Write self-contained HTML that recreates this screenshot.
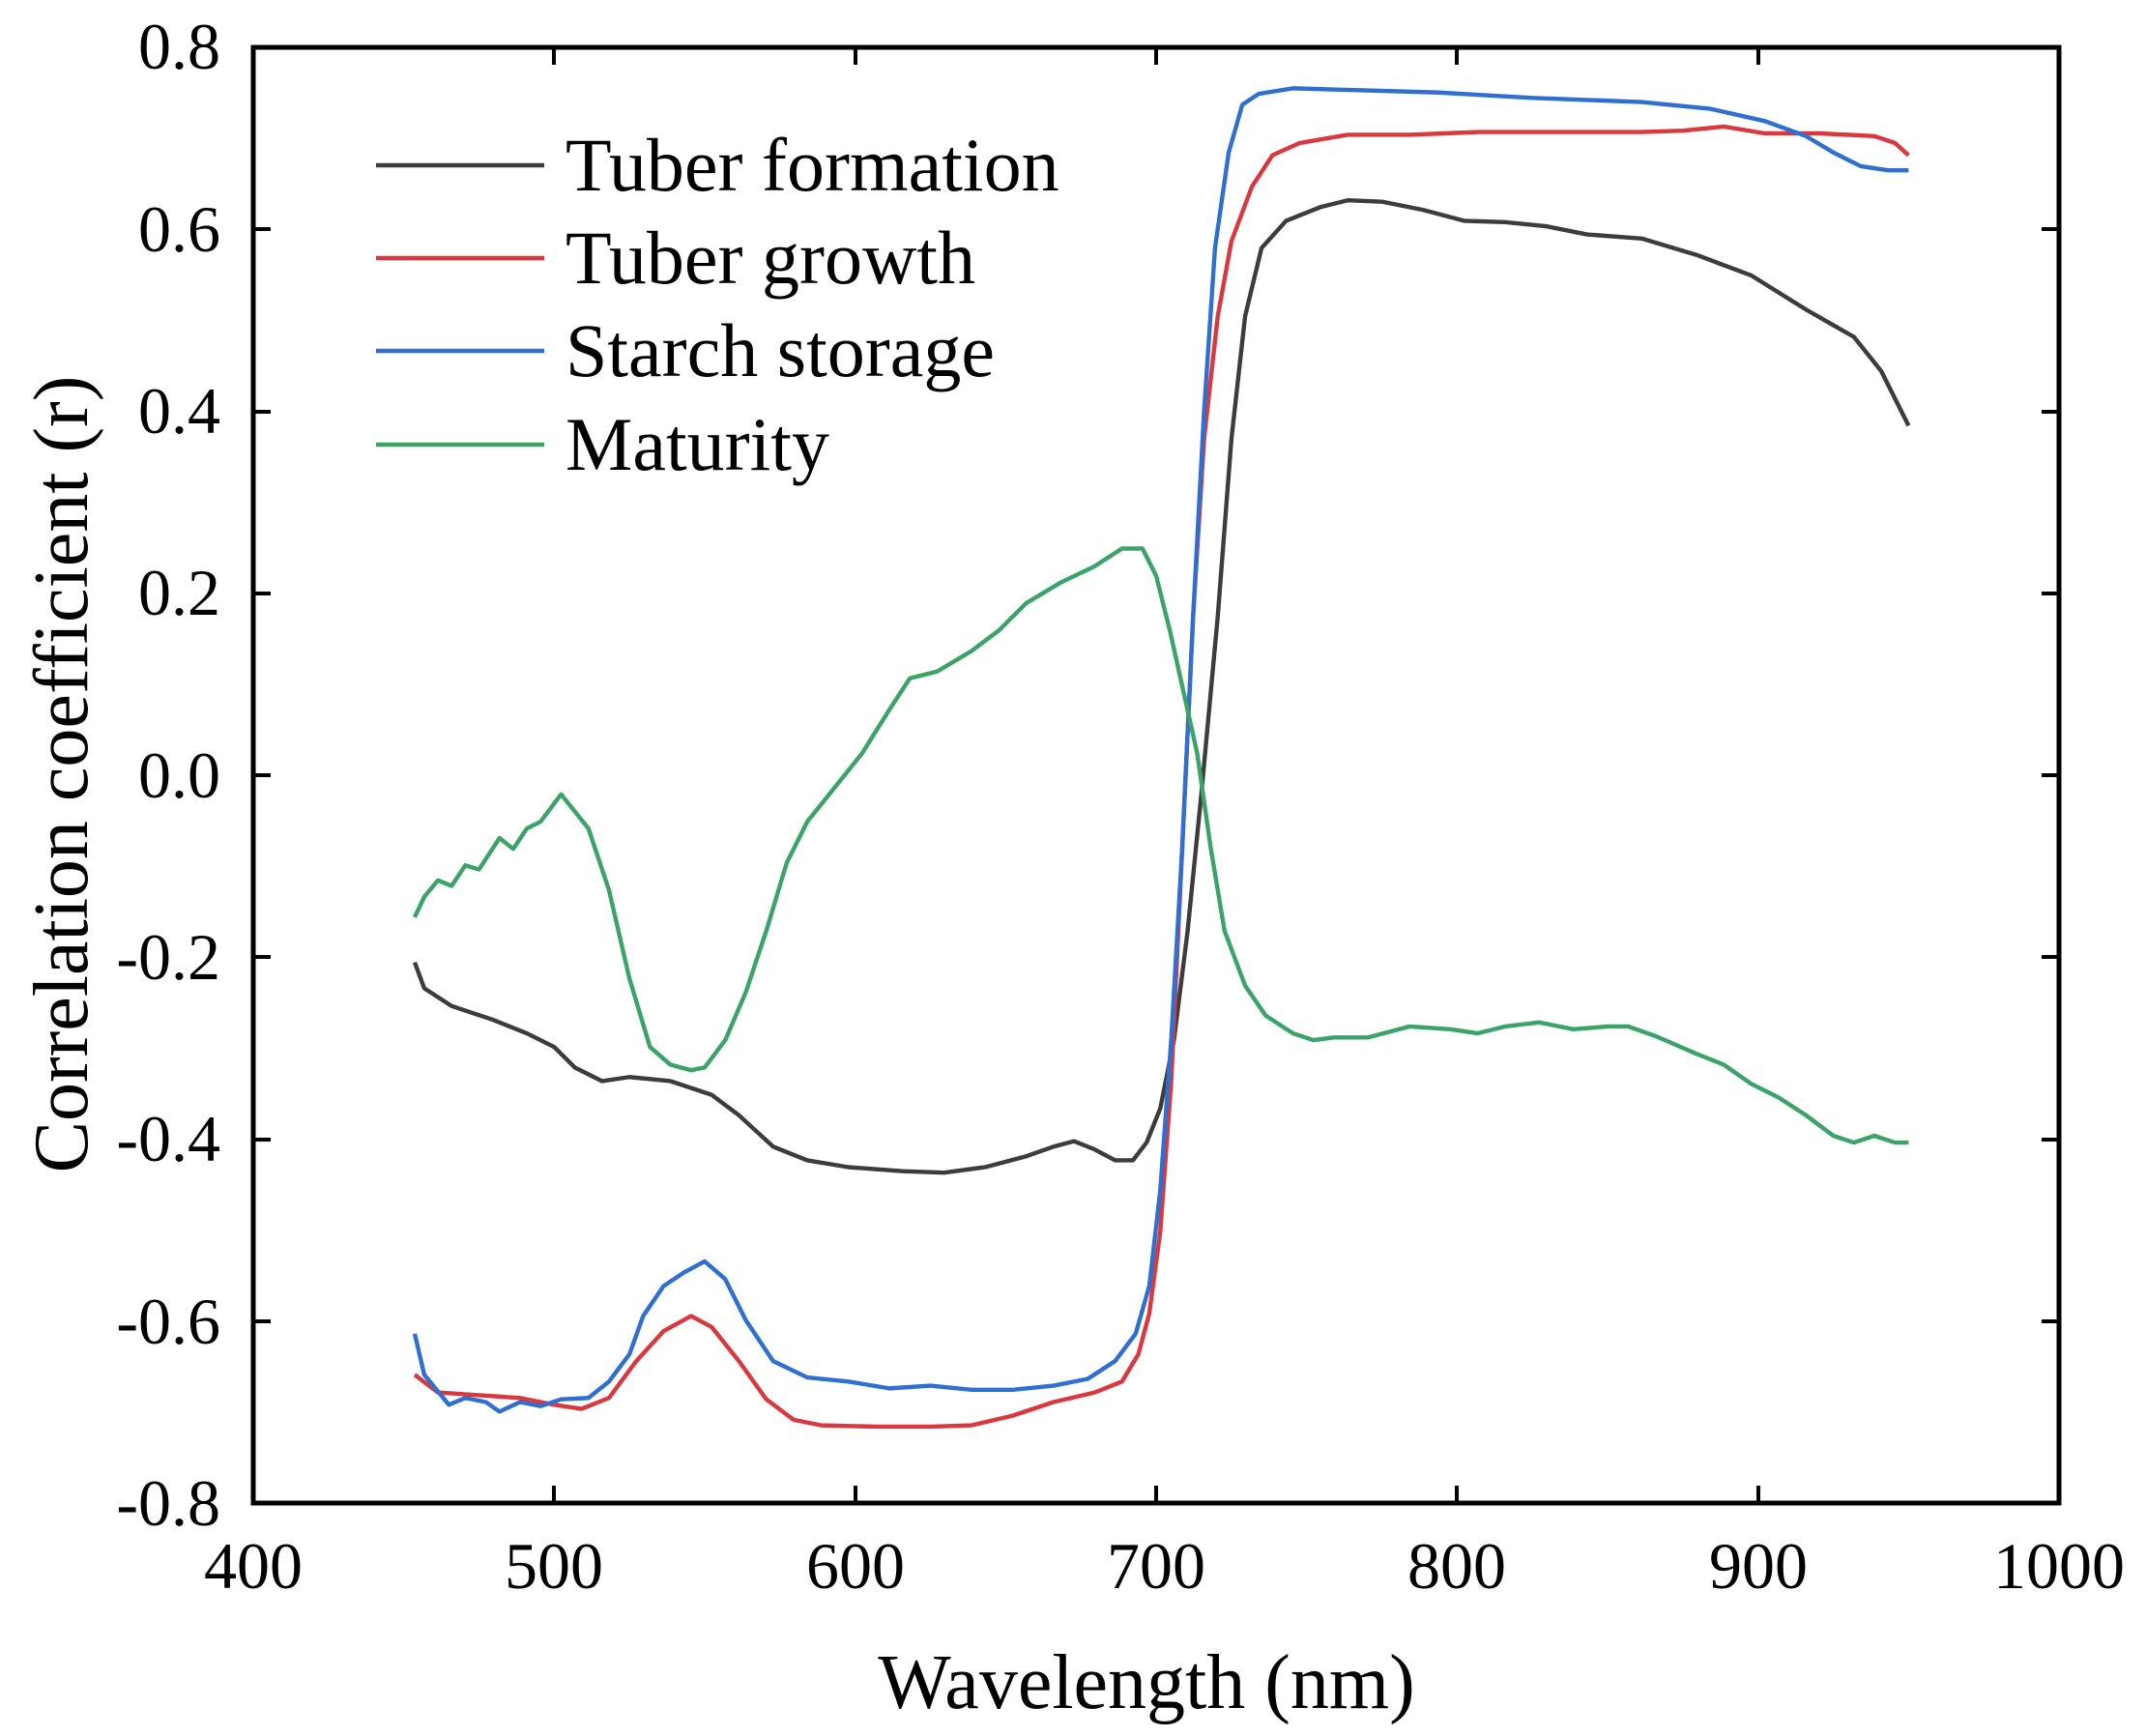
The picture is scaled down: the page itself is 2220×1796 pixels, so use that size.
<!DOCTYPE html>
<html><head><meta charset="utf-8"><style>
html,body{margin:0;padding:0;background:#fff;}
svg{display:block;font-family:"Liberation Serif",serif;}
</style></head><body>
<svg width="2220" height="1796" viewBox="0 0 2220 1796" xmlns="http://www.w3.org/2000/svg">
<rect width="2220" height="1796" fill="#fff"/>
<g fill="none" stroke-width="4.4" stroke-linejoin="round" transform="translate(262,49) scale(1.4152,1.4128) translate(-185,-33)">
<polyline vector-effect="non-scaling-stroke" stroke="#3c3c3c" points="303,703 310,722 330,735 360,745 385,755 405,765 420,780 440,790 460,787 490,790 520,800 540,815 565,838 590,848 620,853 660,856 690,857 720,853 750,845 770,838 785,834 800,840 815,848 828,848 838,835 848,810 858,760 868,680 878,580 890,450 900,320 910,230 922,180 940,160 965,150 985,145 1010,146 1040,152 1070,160 1100,161 1130,164 1160,170 1200,173 1240,185 1280,200 1320,225 1355,245 1375,270 1395,310"/>
<polyline vector-effect="non-scaling-stroke" stroke="#d9393e" points="303,1005 320,1018 350,1020 380,1022 405,1027 425,1030 445,1022 465,995 485,973 505,962 520,970 540,995 560,1023 580,1038 600,1042 640,1043 680,1043 710,1042 740,1035 770,1025 800,1018 820,1010 832,990 840,960 848,900 856,790 864,620 872,450 880,320 890,230 900,175 915,135 930,112 950,103 985,97 1030,97 1080,95 1150,95 1200,95 1230,94 1260,91 1290,96 1330,96 1370,98 1385,103 1395,112"/>
<polyline vector-effect="non-scaling-stroke" stroke="#2e6fd0" points="303,975 310,1005 328,1027 340,1022 355,1025 365,1032 380,1025 395,1028 410,1023 430,1022 445,1010 460,990 470,962 485,940 500,930 515,922 530,935 545,965 565,995 590,1007 620,1010 650,1015 680,1013 710,1016 740,1016 770,1013 795,1008 815,995 830,975 840,940 848,870 856,760 864,620 872,450 880,300 888,180 898,110 908,75 920,67 945,63 980,64 1050,66 1120,70 1200,73 1250,78 1290,87 1320,98 1340,110 1360,120 1380,123 1395,123"/>
<polyline vector-effect="non-scaling-stroke" stroke="#3aa367" points="303,670 310,655 320,643 330,647 340,632 350,635 365,612 375,620 385,605 395,600 410,580 430,605 445,650 460,715 475,765 490,778 505,782 515,780 530,760 545,725 560,680 575,630 590,600 610,575 630,550 650,518 665,495 685,490 710,475 730,460 750,440 775,425 800,413 820,400 835,400 845,420 855,460 865,505 875,550 885,620 895,680 910,720 925,742 945,755 960,760 975,758 1000,758 1030,750 1060,752 1080,755 1100,750 1125,747 1150,752 1175,750 1190,750 1210,757 1240,770 1260,778 1280,792 1300,802 1320,815 1340,830 1355,835 1370,830 1385,835 1395,835"/>
</g>
<rect x="262" y="49" width="1868" height="1506" fill="none" stroke="#000" stroke-width="5"/>
<g stroke="#000" stroke-width="4">
<path d="M262 237h18M262 426h18M262 614h18M262 802h18M262 990h18M262 1179h18M262 1367h18
M2130 237h-18M2130 426h-18M2130 614h-18M2130 802h-18M2130 990h-18M2130 1179h-18M2130 1367h-18
M573 1555v-18M885 1555v-18M1196 1555v-18M1507 1555v-18M1819 1555v-18
M573 49v18M885 49v18M1196 49v18M1507 49v18M1819 49v18"/>
</g>
<g font-size="68" fill="#000" text-anchor="end">
<text x="228" y="71">0.8</text>
<text x="228" y="260">0.6</text>
<text x="228" y="448">0.4</text>
<text x="228" y="636">0.2</text>
<text x="228" y="825">0.0</text>
<text x="228" y="1013">-0.2</text>
<text x="228" y="1201">-0.4</text>
<text x="228" y="1390">-0.6</text>
<text x="228" y="1578">-0.8</text>
</g>
<g font-size="68" fill="#000" text-anchor="middle">
<text x="262" y="1643">400</text>
<text x="573" y="1643">500</text>
<text x="885" y="1643">600</text>
<text x="1196" y="1643">700</text>
<text x="1507" y="1643">800</text>
<text x="1819" y="1643">900</text>
<text x="2130" y="1643">1000</text>
</g>
<text x="1186" y="1767" font-size="80" text-anchor="middle">Wavelength (nm)</text>
<text transform="translate(90,801) rotate(-90)" font-size="80" text-anchor="middle">Correlation coefficient (r)</text>
<g stroke-width="4.4">
<line x1="389" y1="171" x2="563" y2="171" stroke="#3c3c3c"/>
<line x1="389" y1="267" x2="563" y2="267" stroke="#d9393e"/>
<line x1="389" y1="363" x2="563" y2="363" stroke="#2e6fd0"/>
<line x1="389" y1="460" x2="563" y2="460" stroke="#3aa367"/>
</g>
<g font-size="78" fill="#000">
<text x="585" y="197">Tuber formation</text>
<text x="585" y="293">Tuber growth</text>
<text x="585" y="389">Starch storage</text>
<text x="585" y="486">Maturity</text>
</g>
</svg>
</body></html>
